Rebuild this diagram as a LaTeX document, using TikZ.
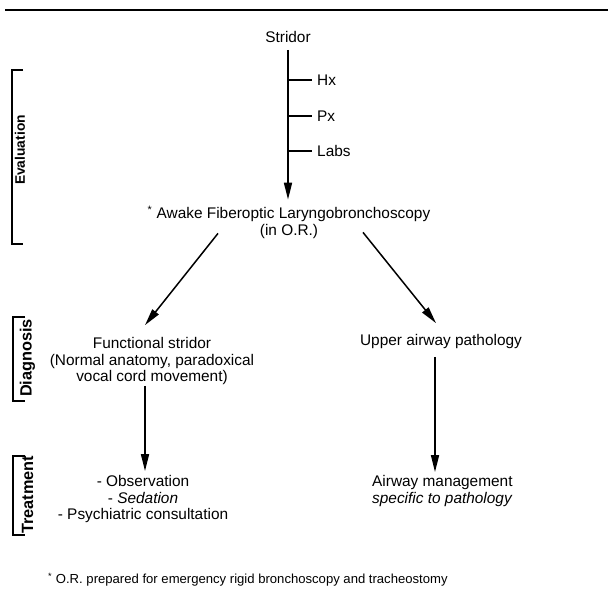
\documentclass[tikz,border=0pt]{standalone}
\usepackage{fontspec}
\setmainfont{Liberation Sans}
\usetikzlibrary{arrows.meta,calc}
\begin{document}
\begin{tikzpicture}[x=1pt,y=-1pt,
  txt/.style={inner sep=0pt,align=center,anchor=base,font=\fontsize{15.4}{16.5}\selectfont},
  lbl/.style={inner sep=0pt,font=\fontsize{16.3}{18}\selectfont\bfseries,rotate=90},
  arr/.style={line width=1.5pt,-{Triangle[length=17pt,width=8pt]}},
  ln/.style={line width=1.5pt},
  brk/.style={line width=1.4pt}]
\useasboundingbox (0,0) rectangle (608,602);
\draw[line width=2pt] (5,10) -- (608,10);
% main column
\node[txt] (stridor) at (288,42.5) {Stridor};
\node[txt,anchor=base west] (hx) at (317,85.5) {Hx};
\node[txt,anchor=base west] (px) at (317,121.5) {Px};
\node[txt,anchor=base west] (labs) at (317,156.5) {Labs};
\node[txt] (awake) at (289,235) {\textsuperscript{*} Awake Fiberoptic Laryngobronchoscopy\\(in O.R.)};
\draw[arr] ($(stridor.south)+(0,7)$) -- ($(stridor.south |- awake.north)+(0,-6)$);
\draw[ln] (stridor.south |- hx.west) -- ($(hx.west)+(-5,0)$);
\draw[ln] (stridor.south |- px.west) -- ($(px.west)+(-5,0)$);
\draw[ln] (stridor.south |- labs.west) -- ($(labs.west)+(-5,0)$);
\node[txt] (func) at (152,381.5) {Functional stridor\\(Normal anatomy, paradoxical\\vocal cord movement)};
\node[txt] (upper) at (441,345.5) {Upper airway pathology};
\draw[arr] ($(awake.south)+(-71,-5)$) -- ($(func.north)+(-7,-12)$);
\draw[arr] ($(awake.south)+(74,-6)$) -- ($(upper.north)+(-5,-11)$);
\node[txt] (treatA) at (143,519.5) {- Observation\\- \textit{Sedation}\\- Psychiatric consultation};
\node[txt,align=left,anchor=base west] (treatB) at (372,503) {Airway management\\\textit{specific to pathology}};
\draw[arr] ($(func.south)+(-7,1)$) -- ($(func.south |- treatA.north)+(-7,-4)$);
\draw[arr] ($(upper.south)+(-6,8)$) -- ($(upper.south |- treatB.north)+(-6,-3)$);
\node[txt,anchor=base west,font=\fontsize{13.1}{15}\selectfont] (foot) at (48,583.5) {\textsuperscript{*} O.R. prepared for emergency rigid bronchoscopy and tracheostomy};
% brackets
\node[lbl,font=\fontsize{13.8}{15}\selectfont\bfseries] (eval) at (20,150) {Evaluation};
\draw[brk] (23,70) -- (12,70) -- (12,244) -- (23,244);
\node[lbl] (diag) at (27.5,358) {Diagnosis};
\draw[brk] (25,317) -- (13,317) -- (13,401) -- (25,401);
\node[lbl] (treat) at (27.5,495) {Treatment};
\draw[brk] (25,456) -- (13,456) -- (13,535) -- (25,535);
\end{tikzpicture}
\end{document}
